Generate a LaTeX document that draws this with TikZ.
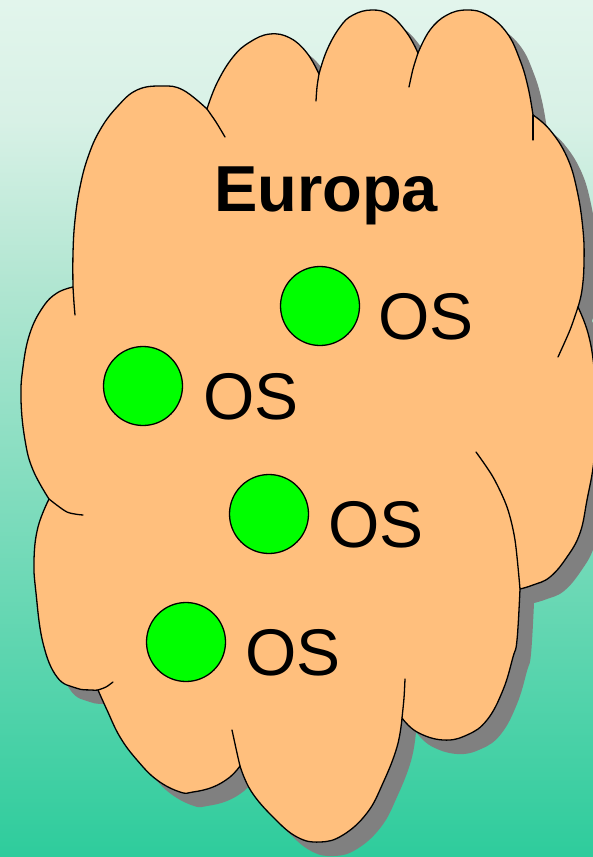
\documentclass[tikz,border=0pt]{standalone}
\usepackage{fontspec}
\setmainfont{Liberation Sans}
\definecolor{cloudfill}{HTML}{FFBF7D}
\definecolor{shadowgray}{HTML}{808080}
\definecolor{dotgreen}{HTML}{00FF00}
\definecolor{bgA}{HTML}{E2F5EC}
\definecolor{bgB}{HTML}{D8F1E6}
\definecolor{bgC}{HTML}{B2E6D2}
\definecolor{bgD}{HTML}{2ECC9C}
\tikzset{
 lobe/.style={smooth,tension=0.7},
 cloudline/.style={line width=1.3pt, line join=round, line cap=round},
 osdot/.style={circle, draw=black, line width=1.3pt, fill=dotgreen, minimum size=79pt, inner sep=0pt},
 oslabel/.style={anchor=base west, inner sep=0pt, font=\fontsize{66}{70}\selectfont},
 titlelabel/.style={anchor=base west, inner sep=0pt, font=\bfseries\fontsize{65}{70}\selectfont},
}
\newcommand\cloudoutline{%
 plot[lobe] coordinates {(73,287) (73,253) (75,220) (80,187) (88,157) (100,130) (117,107) (137,90) (162,86) (183,90) (207,109)}
 -- plot[lobe] coordinates {(207,109) (217,83) (233,57) (250,42) (270,34) (290,38) (307,53) (319,74)}
 -- plot[lobe] coordinates {(319,74) (327,50) (340,27) (353,15) (372,10) (390,15) (407,33) (418,53)}
 -- plot[lobe] coordinates {(418,53) (430,30) (447,15) (467,10) (487,15) (507,33) (520,60) (528,87) (533,115)}
 -- plot[lobe] coordinates {(533,115) (550,130) (567,157) (577,190) (583,230) (584,263) (582,290) (578,307)}
 -- plot[lobe] coordinates {(578,307) (588,333) (594,367) (597,410) (594,460) (587,500) (580,533) (567,557) (550,577) (533,585) (520,589)}
 -- plot[lobe] coordinates {(520,589) (517,640) (513,657) (503,690) (487,720) (467,735) (443,740) (417,732) (402,718)}
 -- plot[lobe] coordinates {(402,718) (397,747) (383,783) (367,813) (343,835) (320,842) (297,837) (273,817) (251,791) (240,766)}
 -- plot[lobe] coordinates {(240,766) (230,777) (213,787) (193,792) (180,792) (157,780) (137,760) (120,737) (107,710) (98,690)}
 -- plot[lobe] coordinates {(98,690) (91,690) (76,688) (57,677) (43,643) (36,593) (34,560) (38,527) (49,499)}
 -- plot[lobe] coordinates {(49,499) (33,470) (25,440) (21,400) (23,367) (30,333) (43,307) (57,293) (73,287)}
 -- cycle}
\begin{document}
\begin{tikzpicture}[x=1pt,y=-1pt]
\useasboundingbox (0,0) rectangle (593,857);
\clip (0,0) rectangle (593,857);
% background gradient
\shade[top color=bgA, bottom color=bgB] (0,0) rectangle (593,121);
\shade[top color=bgB, bottom color=bgC] (0,120) rectangle (593,281);
\shade[top color=bgC, bottom color=bgD] (0,280) rectangle (593,857);
% shadow
\fill[shadowgray, shift={(14,14)}] \cloudoutline;
% cloud
\filldraw[cloudline, fill=cloudfill, draw=black] \cloudoutline;
% inner tails of the lobes
\draw[cloudline] plot[smooth] coordinates {(73,287) (74,303) (75,315)};
\draw[cloudline] plot[smooth] coordinates {(207,109) (216,122) (225,137)};
\draw[cloudline] plot[smooth] coordinates {(316,101) (317,87) (319,74)};
\draw[cloudline] plot[smooth] coordinates {(409,87) (413,69) (418,53)};
\draw[cloudline] plot[smooth] coordinates {(533,115) (533,127) (533,140)};
\draw[cloudline] plot[smooth] coordinates {(578,307) (570,330) (558,357)};
\draw[cloudline] plot[smooth] coordinates {(476,452) (493,477) (507,507) (515,540) (520,589)};
\draw[cloudline] plot[smooth] coordinates {(402,718) (404,698) (405,679)};
\draw[cloudline] plot[smooth] coordinates {(240,766) (237,753) (232,730)};
\draw[cloudline] plot[smooth] coordinates {(98,690) (106,687) (113,682)};
\draw[cloudline] plot[smooth] coordinates {(49,499) (67,512) (83,515)};
% title
\node[titlelabel] (europa) at (214,211) {Europa};
% OS dots and labels
\node[osdot] (d1) at (320,306) {};
\node[osdot] (d2) at (143,386) {};
\node[osdot] (d3) at (269,514) {};
\node[osdot] (d4) at (186,642) {};
\node[oslabel] (os1) at (378,339) {OS};
\node[oslabel] (os2) at (203,419) {OS};
\node[oslabel] (os3) at (328,547) {OS};
\node[oslabel] (os4) at (245,675) {OS};
\end{tikzpicture}
\end{document}
